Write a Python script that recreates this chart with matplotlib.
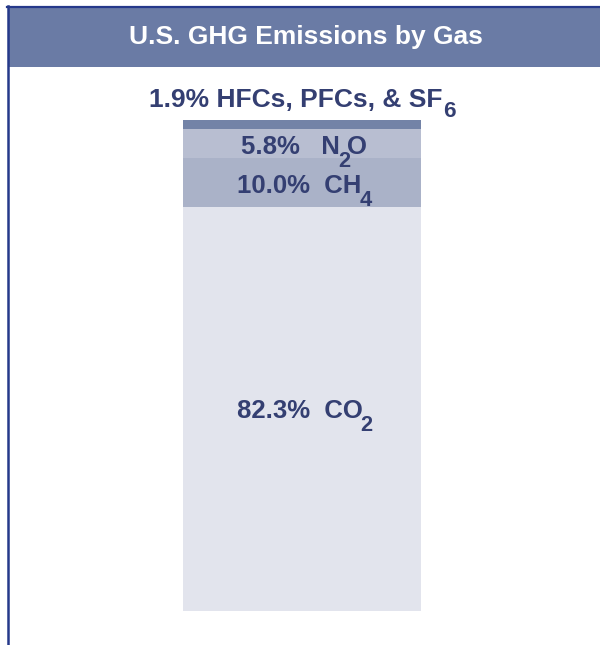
import matplotlib
matplotlib.use("Agg")
import matplotlib.pyplot as plt
from matplotlib.patches import Rectangle
from matplotlib.lines import Line2D
from matplotlib.transforms import ScaledTranslation

plt.rcParams['font.family'] = ['Liberation Sans', 'DejaVu Sans']

# Data (stacked from bottom to top)
gases = ["CO2", "CH4", "N2O", "HFCs, PFCs, & SF6"]
# (main text, subscript, trailing text) for each gas name
gas_parts = [("CO", "2", ""), ("CH", "4", ""), ("N", "2", "O"), ("HFCs, PFCs, & SF", "6", "")]
shares = [82.3, 10.0, 5.8, 1.9]
colors = ["#e2e4ed", "#aab2c8", "#b8bed1", "#7383a7"]
title = "U.S. GHG Emissions by Gas"

W, H = 600, 645
DPI = 100
fig = plt.figure(figsize=(W / DPI, H / DPI), dpi=DPI)
fig.patch.set_facecolor("white")

# Header band and frame lines
fig.patches.append(Rectangle((8 / W, 1 - 67 / H), 1 - 8 / W, 60 / H,
                             transform=fig.transFigure, facecolor="#6a7ba5",
                             edgecolor="none", zorder=0))
fig.lines.append(Line2D([7 / W, 1], [1 - 6.5 / H, 1 - 6.5 / H], transform=fig.transFigure,
                        color="#25398a", lw=1.6))
fig.lines.append(Line2D([7.5 / W, 7.5 / W], [0, 1 - 5.5 / H], transform=fig.transFigure,
                        color="#25398a", lw=1.8))
fig.text(306 / W, 1 - 37 / H, title, color="white", fontsize=19, fontweight="bold",
         ha="center", va="center")

# Bar axes
x0, x1 = 183, 421
ytop, ybot = 120, 611
ax = fig.add_axes([x0 / W, (H - ybot) / H, (x1 - x0) / W, (ybot - ytop) / H])
ax.set_xlim(-0.5, 0.5)
ax.set_ylim(0, 100)
ax.axis("off")

bottom = 0
mids = []
for g, s, c in zip(gases, shares, colors):
    ax.bar(0, s, width=1.0, bottom=bottom, color=c, edgecolor="none")
    mids.append(bottom + s / 2)
    bottom += s

txtc = "#343f72"
renderer = fig.canvas.get_renderer()


def rich(x, y, pieces, fontsize, sub_drop, gap):
    """pieces: list of (text, is_sub). Drawn centred at x with baseline y (data)."""
    objs = []
    for s, is_sub in pieces:
        if not s:
            continue
        t = ax.text(x, y, s, fontsize=fontsize * (0.85 if is_sub else 1.0),
                    fontweight="bold", color=txtc, ha="left", va="baseline",
                    clip_on=False)
        w = t.get_window_extent(renderer).width
        objs.append((t, w, is_sub))
    total = sum(w for _, w, _ in objs) + gap * (len(objs) - 1)
    off = -total / 2
    for t, w, is_sub in objs:
        dy = -sub_drop if is_sub else 0
        t.set_transform(ax.transData + ScaledTranslation(off / DPI, dy / DPI, fig.dpi_scale_trans))
        off += w + gap


spaces = ["  ", "  ", "   ", " "]
baseline_offsets = [-1.85, -2.2, -2.1]
for i in range(3):
    main, sub, tail = gas_parts[i]
    rich(0.01, mids[i] + baseline_offsets[i],
         [(f"{shares[i]:.1f}%{spaces[i]}{main}", False), (sub, True), (tail, False)],
         18.5, 13, -2.5)
main, sub, tail = gas_parts[3]
rich(0, 100 + 2.6, [(f"{shares[3]:.1f}%{spaces[3]}{main}", False), (sub, True)], 19, 10, 0.5)

fig.savefig("out.png", dpi=DPI)
